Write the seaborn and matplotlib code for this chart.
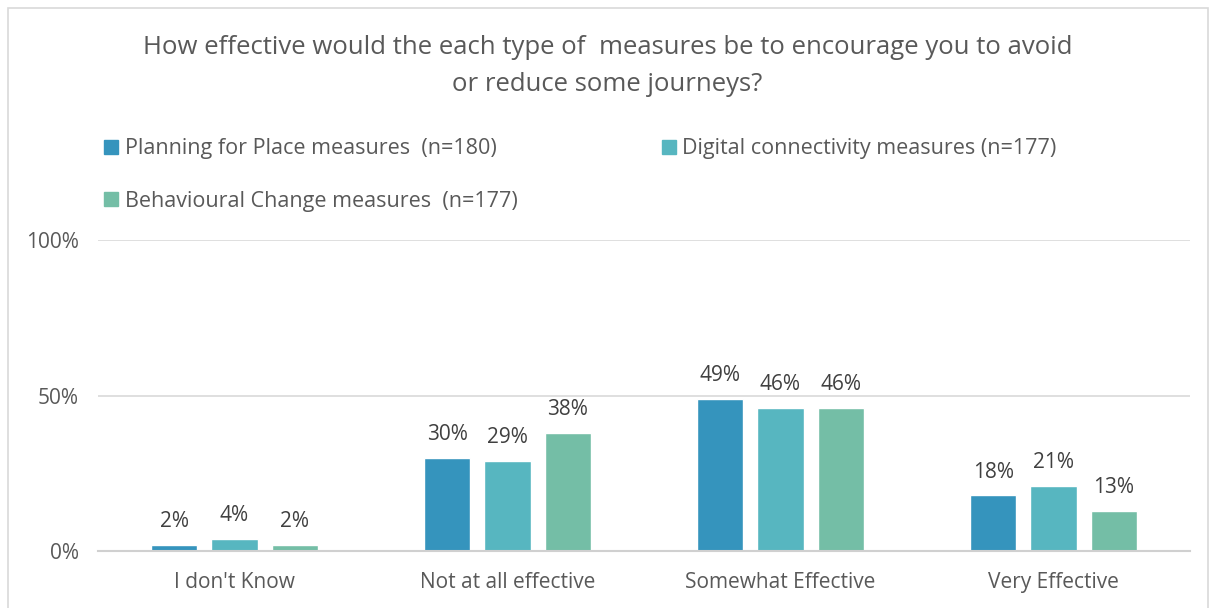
import matplotlib
matplotlib.use("Agg")
import matplotlib.pyplot as plt
import seaborn as sns
import pandas as pd
from matplotlib.patches import Rectangle

categories = ["I don't Know", "Not at all effective", "Somewhat Effective", "Very Effective"]
series = ["Planning for Place measures  (n=180)",
          "Digital connectivity measures (n=177)",
          "Behavioural Change measures  (n=177)"]
planning = [2, 30, 49, 18]
digital = [4, 29, 46, 21]
behavioural = [2, 38, 46, 13]
colors = ["#3594BD", "#57B6C0", "#74BEA6"]
title = "How effective would the each type of  measures be to encourage you to avoid\nor reduce some journeys?"

rows = []
for s, vals in zip(series, [planning, digital, behavioural]):
    for c, v in zip(categories, vals):
        rows.append({"cat": c, "series": s, "value": v / 100})
df = pd.DataFrame(rows)

sns.set_theme(style="white")
plt.rcParams['font.family'] = ['Open Sans', 'DejaVu Sans']
txt = "#595959"

fig = plt.figure(figsize=(12.15, 6.08), dpi=100)
ax = fig.add_axes([98/1215, 1 - 551/608, 1092/1215, 311/608])

sns.barplot(data=df, x="cat", y="value", hue="series", order=categories,
            hue_order=series, palette=colors, width=0.66, gap=0.233,
            ax=ax, legend=False, saturation=1)

ax.set_xlim(-0.5, 3.5)
ax.set_ylim(0, 1)
ax.set_yticks([0, 0.5, 1])
ax.set_yticklabels(["0%", "50%", "100%"], color=txt, fontsize=15)
ax.tick_params(axis="x", colors=txt, labelsize=15, length=0, pad=15)
ax.tick_params(axis="y", length=0, pad=14)
ax.set_xlabel("")
ax.set_ylabel("")
ax.grid(axis="y", color="#D9D9D9", linewidth=1.2)
ax.set_axisbelow(True)
for sp in ["top", "left", "right"]:
    ax.spines[sp].set_visible(False)
ax.spines["bottom"].set_color("#D0D0D0")
ax.spines["bottom"].set_linewidth(1.5)

for cont in ax.containers:
    ax.bar_label(cont, labels=[f"{round(v*100):d}%" for v in cont.datavalues],
                 padding=9, color="#404040", fontsize=15)

handles = [Rectangle((0, 0), 1, 1, color=c) for c in colors]
order = [0, 2, 1]
fig.legend([handles[i] for i in order], [series[i] for i in order], ncol=2,
           loc="upper left", bbox_to_anchor=(85/1215, 1 - 119/608), frameon=False,
           fontsize=15.5, labelcolor=txt, handlelength=0.65, handleheight=0.65,
           handletextpad=0.3, columnspacing=6.7, labelspacing=1.45)

fig.text(0.5, 1 - 66/608, title, ha="center", va="center", fontsize=18.5,
         color=txt, linespacing=1.6)

fig.patches.append(Rectangle((8/1215, -0.05), 1200/1215, 1 - 8/608 + 0.05,
                             transform=fig.transFigure, fill=False,
                             edgecolor="#D9D9D9", linewidth=1.2))

fig.savefig("out.png", dpi=100, facecolor="white")
